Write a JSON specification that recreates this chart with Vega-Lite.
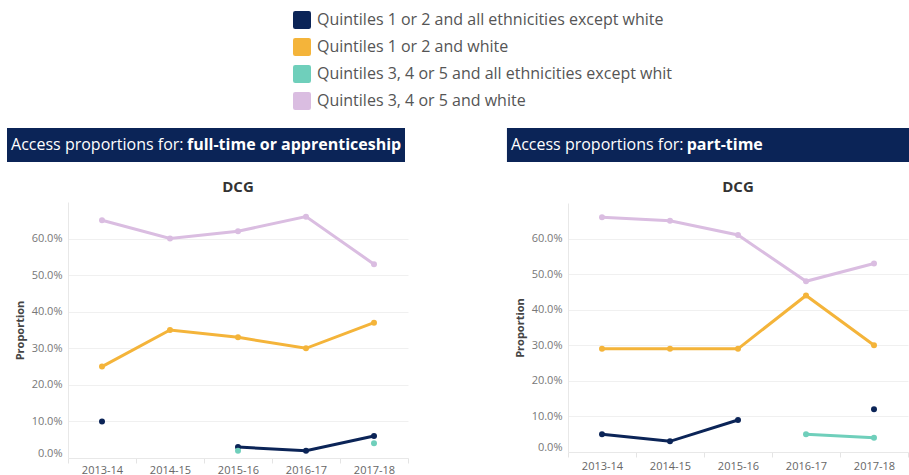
{
  "$schema": "https://vega.github.io/schema/vega-lite/v6.json",
  "padding": {"left": 7, "top": 11, "right": 0, "bottom": 0},
  "datasets": {
    "headers": [
      {"panel": "full-time or apprenticeship", "prefix": "Access proportions for:", "mode": "full-time or apprenticeship"},
      {"panel": "part-time", "prefix": "Access proportions for:", "mode": "part-time"}
    ],
    "access": [
      {"panel": "full-time or apprenticeship", "group": "Quintiles 3, 4 or 5 and white", "year": "2013-14", "value": 0.65},
      {"panel": "full-time or apprenticeship", "group": "Quintiles 3, 4 or 5 and white", "year": "2014-15", "value": 0.60},
      {"panel": "full-time or apprenticeship", "group": "Quintiles 3, 4 or 5 and white", "year": "2015-16", "value": 0.62},
      {"panel": "full-time or apprenticeship", "group": "Quintiles 3, 4 or 5 and white", "year": "2016-17", "value": 0.66},
      {"panel": "full-time or apprenticeship", "group": "Quintiles 3, 4 or 5 and white", "year": "2017-18", "value": 0.53},
      {"panel": "full-time or apprenticeship", "group": "Quintiles 1 or 2 and white", "year": "2013-14", "value": 0.25},
      {"panel": "full-time or apprenticeship", "group": "Quintiles 1 or 2 and white", "year": "2014-15", "value": 0.35},
      {"panel": "full-time or apprenticeship", "group": "Quintiles 1 or 2 and white", "year": "2015-16", "value": 0.33},
      {"panel": "full-time or apprenticeship", "group": "Quintiles 1 or 2 and white", "year": "2016-17", "value": 0.30},
      {"panel": "full-time or apprenticeship", "group": "Quintiles 1 or 2 and white", "year": "2017-18", "value": 0.37},
      {"panel": "full-time or apprenticeship", "group": "Quintiles 1 or 2 and all ethnicities except white", "year": "2013-14", "value": 0.10},
      {"panel": "full-time or apprenticeship", "group": "Quintiles 1 or 2 and all ethnicities except white", "year": "2014-15", "value": null},
      {"panel": "full-time or apprenticeship", "group": "Quintiles 1 or 2 and all ethnicities except white", "year": "2015-16", "value": 0.03},
      {"panel": "full-time or apprenticeship", "group": "Quintiles 1 or 2 and all ethnicities except white", "year": "2016-17", "value": 0.02},
      {"panel": "full-time or apprenticeship", "group": "Quintiles 1 or 2 and all ethnicities except white", "year": "2017-18", "value": 0.06},
      {"panel": "full-time or apprenticeship", "group": "Quintiles 3, 4 or 5 and all ethnicities except white", "year": "2013-14", "value": null},
      {"panel": "full-time or apprenticeship", "group": "Quintiles 3, 4 or 5 and all ethnicities except white", "year": "2014-15", "value": null},
      {"panel": "full-time or apprenticeship", "group": "Quintiles 3, 4 or 5 and all ethnicities except white", "year": "2015-16", "value": 0.02},
      {"panel": "full-time or apprenticeship", "group": "Quintiles 3, 4 or 5 and all ethnicities except white", "year": "2016-17", "value": null},
      {"panel": "full-time or apprenticeship", "group": "Quintiles 3, 4 or 5 and all ethnicities except white", "year": "2017-18", "value": 0.04},
      {"panel": "part-time", "group": "Quintiles 3, 4 or 5 and white", "year": "2013-14", "value": 0.66},
      {"panel": "part-time", "group": "Quintiles 3, 4 or 5 and white", "year": "2014-15", "value": 0.65},
      {"panel": "part-time", "group": "Quintiles 3, 4 or 5 and white", "year": "2015-16", "value": 0.61},
      {"panel": "part-time", "group": "Quintiles 3, 4 or 5 and white", "year": "2016-17", "value": 0.48},
      {"panel": "part-time", "group": "Quintiles 3, 4 or 5 and white", "year": "2017-18", "value": 0.53},
      {"panel": "part-time", "group": "Quintiles 1 or 2 and white", "year": "2013-14", "value": 0.29},
      {"panel": "part-time", "group": "Quintiles 1 or 2 and white", "year": "2014-15", "value": 0.29},
      {"panel": "part-time", "group": "Quintiles 1 or 2 and white", "year": "2015-16", "value": 0.29},
      {"panel": "part-time", "group": "Quintiles 1 or 2 and white", "year": "2016-17", "value": 0.44},
      {"panel": "part-time", "group": "Quintiles 1 or 2 and white", "year": "2017-18", "value": 0.30},
      {"panel": "part-time", "group": "Quintiles 1 or 2 and all ethnicities except white", "year": "2013-14", "value": 0.05},
      {"panel": "part-time", "group": "Quintiles 1 or 2 and all ethnicities except white", "year": "2014-15", "value": 0.03},
      {"panel": "part-time", "group": "Quintiles 1 or 2 and all ethnicities except white", "year": "2015-16", "value": 0.09},
      {"panel": "part-time", "group": "Quintiles 1 or 2 and all ethnicities except white", "year": "2016-17", "value": null},
      {"panel": "part-time", "group": "Quintiles 1 or 2 and all ethnicities except white", "year": "2017-18", "value": 0.12},
      {"panel": "part-time", "group": "Quintiles 3, 4 or 5 and all ethnicities except white", "year": "2013-14", "value": null},
      {"panel": "part-time", "group": "Quintiles 3, 4 or 5 and all ethnicities except white", "year": "2014-15", "value": null},
      {"panel": "part-time", "group": "Quintiles 3, 4 or 5 and all ethnicities except white", "year": "2015-16", "value": null},
      {"panel": "part-time", "group": "Quintiles 3, 4 or 5 and all ethnicities except white", "year": "2016-17", "value": 0.05},
      {"panel": "part-time", "group": "Quintiles 3, 4 or 5 and all ethnicities except white", "year": "2017-18", "value": 0.04}
    ]
  },
  "spacing": 97,
  "hconcat": [
    {
      "spacing": 18,
      "vconcat": [
        {
          "width": 337,
          "height": 34,
          "data": {"name": "headers"},
          "transform": [{"filter": "datum.panel == 'full-time or apprenticeship'"}],
          "encoding": {
            "x": {"datum": -0.181, "type": "quantitative", "scale": {"domain": [0, 1], "nice": false, "zero": false}, "axis": null}
          },
          "layer": [
            {
              "mark": {"type": "rect", "color": "#0b2457", "opacity": 1},
              "encoding": {"x2": {"datum": 1}}
            },
            {
              "mark": {"type": "text", "align": "left", "baseline": "middle", "color": "#ffffff", "fontSize": 16, "font": "Open Sans"},
              "encoding": {
                "text": {"field": "prefix"},
                "x": {"datum": -0.169, "type": "quantitative"}
              }
            },
            {
              "mark": {"type": "text", "align": "left", "baseline": "middle", "color": "#ffffff", "fontSize": 16, "fontWeight": "bold", "font": "Open Sans"},
              "encoding": {
                "text": {"field": "mode"},
                "x": {"datum": 0.353, "type": "quantitative"}
              }
            }
          ]
        },
        {
          "width": 340,
          "height": 256,
          "title": {"text": "DCG", "fontSize": 15, "fontWeight": "bold", "color": "#333333", "offset": 7, "anchor": "middle", "font": "Open Sans"},
          "data": {"name": "access"},
          "transform": [{"filter": "datum.panel == 'full-time or apprenticeship'"}],
          "encoding": {
            "x": {
              "field": "year", "type": "ordinal",
              "scale": {"type": "band", "paddingInner": 0, "paddingOuter": 0},
              "axis": {"title": null, "labelAngle": 0, "tickBand": "extent", "tickSize": 5, "tickColor": "#e4e4e4", "domainColor": "#e8e8e8", "labelColor": "#666666", "labelFontSize": 11, "labelPadding": 1, "grid": false}
            },
            "y": {
              "field": "value", "type": "quantitative",
              "scale": {"domain": [0, 0.7], "nice": false},
              "axis": {"title": "Proportion", "format": ".1%", "values": [0, 0.1, 0.2, 0.3, 0.4, 0.5, 0.6], "grid": true, "gridColor": "#f0f0f0", "domainColor": "#e8e8e8", "ticks": false, "labelPadding": 6, "labelFlush": true, "labelColor": "#777777", "labelFontSize": 11, "titleFontSize": 11, "titleFontWeight": "bold", "titleColor": "#444444", "titlePadding": 6}
            },
            "color": {
              "field": "group", "type": "nominal",
              "scale": {
                "domain": ["Quintiles 1 or 2 and all ethnicities except white", "Quintiles 1 or 2 and white", "Quintiles 3, 4 or 5 and all ethnicities except white", "Quintiles 3, 4 or 5 and white"],
                "range": ["#0b2457", "#f4b43a", "#6fcfbb", "#dabde1"]
              },
              "legend": {
                "orient": "none", "legendX": 225, "legendY": -117, "title": null, "direction": "vertical",
                "symbolType": "M-1,-0.75Q-1,-1,-0.75,-1L0.75,-1Q1,-1,1,-0.75L1,0.75Q1,1,0.75,1L-0.75,1Q-1,1,-1,0.75Z",
                "symbolSize": 324, "symbolStrokeWidth": 0, "labelFontSize": 16, "labelColor": "#555555", "labelFont": "Open Sans",
                "rowPadding": 9, "labelOffset": 6, "labelLimit": 500, "padding": 0,
                "labelExpr": "datum.label == 'Quintiles 3, 4 or 5 and all ethnicities except white' ? 'Quintiles 3, 4 or 5 and all ethnicities except whit' : datum.label",
                "encode": {"symbols": {"update": {"fill": {"scale": "color", "field": "value"}, "strokeWidth": {"value": 0}, "opacity": {"value": 1}}}}
              }
            }
          },
          "layer": [
            {"mark": {"type": "line", "strokeWidth": 3, "invalid": "break-paths-show-domains"}},
            {"mark": {"type": "point", "filled": true, "size": 36, "opacity": 1}}
          ]
        }
      ]
    },
    {
      "spacing": 18,
      "vconcat": [
        {
          "width": 343,
          "height": 34,
          "data": {"name": "headers"},
          "transform": [{"filter": "datum.panel == 'part-time'"}],
          "encoding": {
            "x": {"datum": -0.178, "type": "quantitative", "scale": {"domain": [0, 1], "nice": false, "zero": false}, "axis": null}
          },
          "layer": [
            {
              "mark": {"type": "rect", "color": "#0b2457", "opacity": 1},
              "encoding": {"x2": {"datum": 1}}
            },
            {
              "mark": {"type": "text", "align": "left", "baseline": "middle", "color": "#ffffff", "fontSize": 16, "font": "Open Sans"},
              "encoding": {
                "text": {"field": "prefix"},
                "x": {"datum": -0.166, "type": "quantitative"}
              }
            },
            {
              "mark": {"type": "text", "align": "left", "baseline": "middle", "color": "#ffffff", "fontSize": 16, "fontWeight": "bold", "font": "Open Sans"},
              "encoding": {
                "text": {"field": "mode"},
                "x": {"datum": 0.346, "type": "quantitative"}
              }
            }
          ]
        },
        {
          "width": 340,
          "height": 249,
          "title": {"text": "DCG", "fontSize": 15, "fontWeight": "bold", "color": "#333333", "offset": 8, "anchor": "middle", "font": "Open Sans"},
          "data": {"name": "access"},
          "transform": [{"filter": "datum.panel == 'part-time'"}],
          "encoding": {
            "x": {
              "field": "year", "type": "ordinal",
              "scale": {"type": "band", "paddingInner": 0, "paddingOuter": 0},
              "axis": {"title": null, "labelAngle": 0, "tickBand": "extent", "tickSize": 5, "tickColor": "#e4e4e4", "domainColor": "#e8e8e8", "labelColor": "#666666", "labelFontSize": 11, "labelPadding": 3, "grid": false}
            },
            "y": {
              "field": "value", "type": "quantitative",
              "scale": {"domain": [0, 0.7], "nice": false},
              "axis": {"title": "Proportion", "format": ".1%", "values": [0, 0.1, 0.2, 0.3, 0.4, 0.5, 0.6], "grid": true, "gridColor": "#f0f0f0", "domainColor": "#e8e8e8", "ticks": false, "labelPadding": 6, "labelFlush": true, "labelColor": "#777777", "labelFontSize": 11, "titleFontSize": 11, "titleFontWeight": "bold", "titleColor": "#444444", "titlePadding": 6}
            },
            "color": {
              "field": "group", "type": "nominal",
              "scale": {
                "domain": ["Quintiles 1 or 2 and all ethnicities except white", "Quintiles 1 or 2 and white", "Quintiles 3, 4 or 5 and all ethnicities except white", "Quintiles 3, 4 or 5 and white"],
                "range": ["#0b2457", "#f4b43a", "#6fcfbb", "#dabde1"]
              },
              "legend": {
                "orient": "none", "legendX": 225, "legendY": -117, "title": null, "direction": "vertical",
                "symbolType": "M-1,-0.75Q-1,-1,-0.75,-1L0.75,-1Q1,-1,1,-0.75L1,0.75Q1,1,0.75,1L-0.75,1Q-1,1,-1,0.75Z",
                "symbolSize": 324, "symbolStrokeWidth": 0, "labelFontSize": 16, "labelColor": "#555555", "labelFont": "Open Sans",
                "rowPadding": 9, "labelOffset": 6, "labelLimit": 500, "padding": 0,
                "labelExpr": "datum.label == 'Quintiles 3, 4 or 5 and all ethnicities except white' ? 'Quintiles 3, 4 or 5 and all ethnicities except whit' : datum.label",
                "encode": {"symbols": {"update": {"fill": {"scale": "color", "field": "value"}, "strokeWidth": {"value": 0}, "opacity": {"value": 1}}}}
              }
            }
          },
          "layer": [
            {"mark": {"type": "line", "strokeWidth": 3, "invalid": "break-paths-show-domains"}},
            {"mark": {"type": "point", "filled": true, "size": 36, "opacity": 1}}
          ]
        }
      ]
    }
  ],
  "resolve": {"scale": {"color": "shared"}},
  "config": {
    "font": "Open Sans",
    "view": {"stroke": null}
  }
}
